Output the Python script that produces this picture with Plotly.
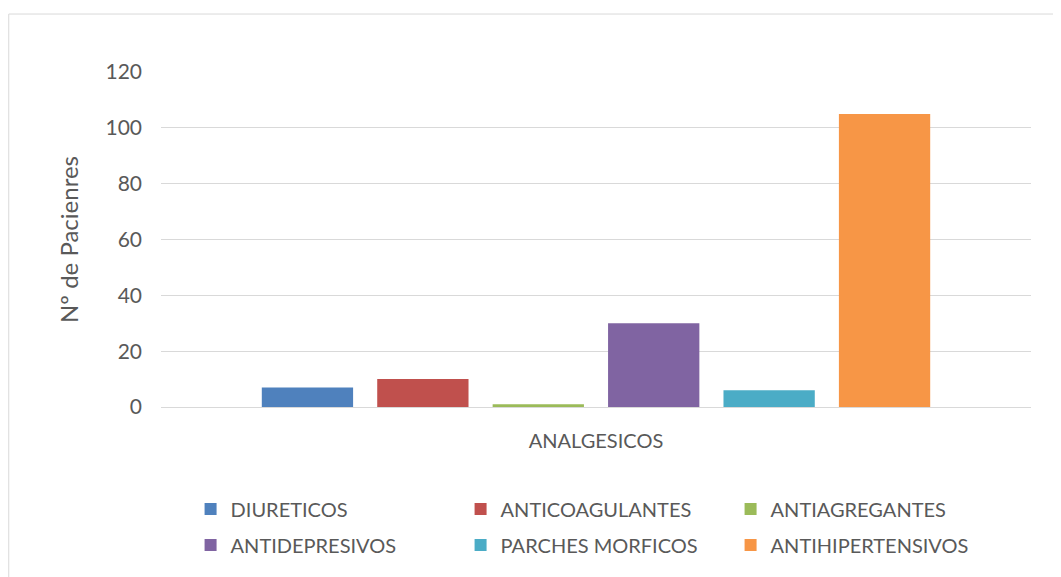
import plotly.graph_objects as go

category = ["ANALGESICOS"]
series_names = ["DIURETICOS", "ANTICOAGULANTES", "ANTIAGREGANTES",
                "ANTIDEPRESIVOS", "PARCHES MORFICOS", "ANTIHIPERTENSIVOS"]
series_values = [7, 10, 1, 30, 6, 105]
series_colors = ["#4F81BD", "#C0504D", "#9BBB59", "#8064A2", "#4BACC6", "#F79646"]
y_ticks = [0, 20, 40, 60, 80, 100, 120]

fig = go.Figure()
for i, (name, val, col) in enumerate(zip(series_names, series_values, series_colors)):
    fig.add_trace(go.Bar(name=name, x=category, y=[val], marker_color=col,
                         marker_line_width=0,
                         legend="legend" if i < 3 else "legend2"))

font_family = "Lato, 'Open Sans', sans-serif"
leg_common = dict(orientation="h", x=0.034, xanchor="left", yanchor="middle",
                  entrywidth=225, entrywidthmode="pixels",
                  font=dict(size=20, color="#595959"), traceorder="normal",
                  itemwidth=30, bgcolor="rgba(0,0,0,0)")
fig.update_layout(
    width=1061, height=577,
    margin=dict(l=153, r=38, t=64, b=178, autoexpand=False),
    paper_bgcolor="white", plot_bgcolor="white",
    barmode="group", bargap=0.204, bargroupgap=0.209,
    font=dict(family=font_family, size=20, color="#595959"),
    showlegend=True,
    legend=dict(leg_common, y=(407 - 509) / 335),
    legend2=dict(leg_common, y=(407 - 545) / 335),
    yaxis=dict(range=[0, 120], tickvals=y_ticks, showgrid=True,
               gridcolor="#D9D9D9", gridwidth=1, zeroline=False,
               showline=False, ticks="", ticklabelstandoff=18,
               tickfont=dict(size=21),
               title=dict(text="Nº de Pacienres", standoff=20,
                          font=dict(size=24, color="#595959"))),
    xaxis=dict(showline=True, linecolor="#D9D9D9", linewidth=1, ticks="",
               showgrid=False, ticklabelstandoff=16, tickfont=dict(size=20)),
)
fig.add_shape(type="rect", xref="paper", yref="paper",
              x0=-0.175, x1=1.04, y0=-0.52, y1=1.173,
              line=dict(color="#D9D9D9", width=1), fillcolor="rgba(0,0,0,0)",
              layer="below")

fig.write_html("out.html")
